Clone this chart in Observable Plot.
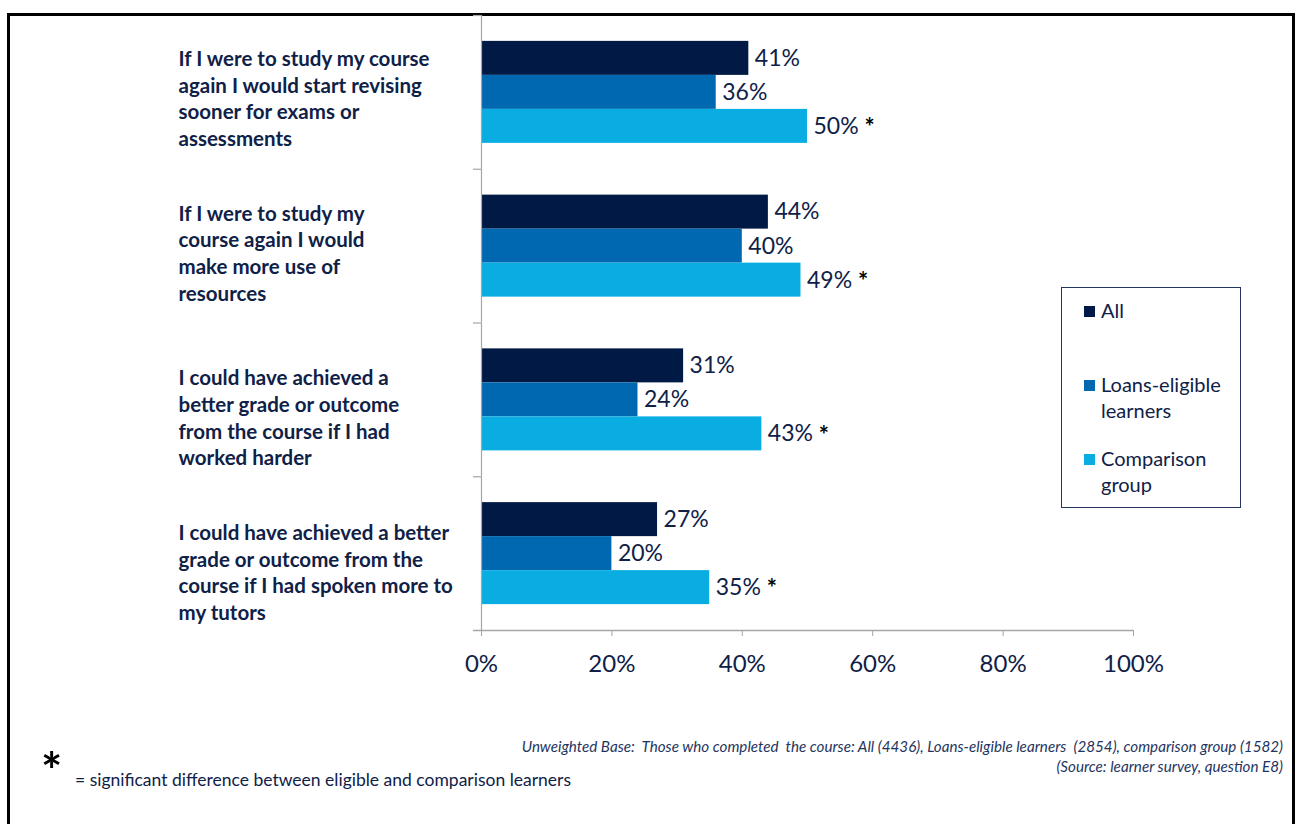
<!DOCTYPE html>
<html>
<head>
<meta charset="utf-8">
<script src="https://cdn.jsdelivr.net/npm/d3@7"></script>
<script src="https://cdn.jsdelivr.net/npm/@observablehq/plot@0.6"></script>
<style>
  html, body { margin: 0; padding: 0; background: #fff; }
  body { width: 1297px; height: 824px; position: relative; overflow: hidden; font-family: Lato, "Open Sans", sans-serif; }
  #frame { position: absolute; left: 7px; top: 13px; width: 1282px; height: 900px; border: 3px solid #000; box-sizing: content-box; }
  #chart { position: absolute; left: 0; top: 0; }
  #legend { position: absolute; left: 1061px; top: 287px; width: 178px; height: 219px; border: 1.5px solid #23365e; color: #0f2147; font-size: 20px; }
  .item { position: absolute; left: 22px; line-height: 26px; }
  .sw { position: absolute; left: 0; top: 9px; width: 11px; height: 11px; }
  .lt { position: absolute; left: 17px; white-space: pre; }
  #star { position: absolute; left: 41px; top: 745px; font-size: 50px; font-weight: bold; color: #000; line-height: 50px; }
  #sig { position: absolute; left: 75px; top: 769px; font-size: 17.5px; color: #0f2147; white-space: nowrap; }
  #base { position: absolute; right: 14px; top: 736px; font-size: 15.2px; font-style: italic; color: #1f3560; text-align: right; line-height: 20px; white-space: pre; }
</style>
</head>
<body>
<div id="frame"></div>
<div id="chart"></div>
<div id="legend"></div>
<div id="star">*</div>
<div id="sig">= significant difference between eligible and comparison learners</div>
<div id="base"></div>
<script>
// ---- data ----
const questions = [
  "If I were to study my course\nagain I would start revising\nsooner for exams or\nassessments",
  "If I were to study my\ncourse again I would\nmake more use of\nresources",
  "I could have achieved a\nbetter grade or outcome\nfrom the course if I had\nworked harder",
  "I could have achieved a better\ngrade or outcome from the\ncourse if I had spoken more to\nmy tutors"
];
const series = ["All", "Loans-eligible learners", "Comparison group"];
const allValues = [41, 44, 31, 27];
const loansValues = [36, 40, 24, 20];
const comparisonValues = [50, 49, 43, 35];
const comparisonSignificant = [true, true, true, true];
const xTicks = [0, 20, 40, 60, 80, 100];
const baseNote = "Unweighted Base:  Those who completed  the course: All (4436), Loans-eligible learners  (2854), comparison group (1582)\n(Source: learner survey, question E8)";

// ---- styles / layout ----
const colors = ["#001a45", "#0068b0", "#0aade1"];
const navy = "#0f2147";
const axisGray = "#a6a6a6";
const labelShift = [5, 6, 17, 18];

const rows = [];
questions.forEach((q, i) => {
  rows.push({question: q, series: series[0], value: allValues[i], sig: false});
  rows.push({question: q, series: series[1], value: loansValues[i], sig: false});
  rows.push({question: q, series: series[2], value: comparisonValues[i], sig: comparisonSignificant[i]});
});

const marginTop = 15, plotBottom = 630, marginBottom = 60;
const pad = 0.761;
const facetH = (plotBottom - marginTop) / questions.length;
const step = facetH / (series.length + 2 * pad);
const firstCenter = pad * step + step / 2;
const tickLeft = -8 / 6.52; // 8px to the left of 0

const chart = Plot.plot({
  width: 1297,
  height: plotBottom + marginBottom,
  marginLeft: 481,
  marginRight: 164,
  marginTop,
  marginBottom,
  style: {fontFamily: "Lato, 'Open Sans', sans-serif", background: "transparent"},
  x: {domain: [0, 100]},
  y: {domain: series, paddingInner: 0, paddingOuter: pad, round: false, axis: null},
  fy: {domain: questions, padding: 0, round: false, axis: null},
  color: {domain: series, range: colors},
  marks: [
    Plot.barX(rows, {x: "value", y: "series", fy: "question", fill: "series"}),
    Plot.ruleX([0], {stroke: axisGray, strokeWidth: 1.2}),
    Plot.ruleY(questions, {fy: d => d, y: () => series[0], x1: tickLeft, x2: 0, dy: -firstCenter, stroke: axisGray, strokeWidth: 1.2}),
    Plot.ruleY([questions[questions.length - 1]], {fy: d => d, y: () => series[series.length - 1], x1: tickLeft, x2: 100, dy: firstCenter, stroke: axisGray, strokeWidth: 1.5}),
    Plot.axisX({ticks: xTicks, tickSize: 6, tickPadding: 18, tickFormat: d => d + "%", fontSize: 24, stroke: axisGray, fill: navy, label: null}),
    Plot.text(rows, {x: "value", y: "series", fy: "question", text: d => d.value + "%", dx: 6, textAnchor: "start", fontSize: 23, fill: navy}),
    Plot.text(rows.filter(d => d.sig), {x: "value", y: "series", fy: "question", text: () => "*", dx: 57, dy: 2, textAnchor: "start", fontSize: 24, fontWeight: "bold", fill: "#000"}),
    ...questions.map((q, i) => Plot.text([q], {fy: d => d, text: d => d, frameAnchor: "left", dx: -303, dy: labelShift[i], textAnchor: "start", lineAnchor: "middle", lineHeight: 1.3, fontSize: 20.5, fontWeight: "bold", fill: navy}))
  ]
});
document.getElementById("chart").appendChild(chart);

// legend
const legend = document.getElementById("legend");
const legendTops = [9, 83, 157];
const legendLabels = ["All", "Loans-eligible\nlearners", "Comparison\ngroup"];
series.forEach((s, i) => {
  const it = document.createElement("div");
  it.className = "item";
  it.style.top = legendTops[i] + "px";
  const sw = document.createElement("div");
  sw.className = "sw"; sw.style.background = colors[i];
  const lt = document.createElement("div");
  lt.className = "lt"; lt.textContent = legendLabels[i];
  it.appendChild(sw); it.appendChild(lt);
  legend.appendChild(it);
});
document.getElementById("base").textContent = baseNote;
</script>
</body>
</html>
